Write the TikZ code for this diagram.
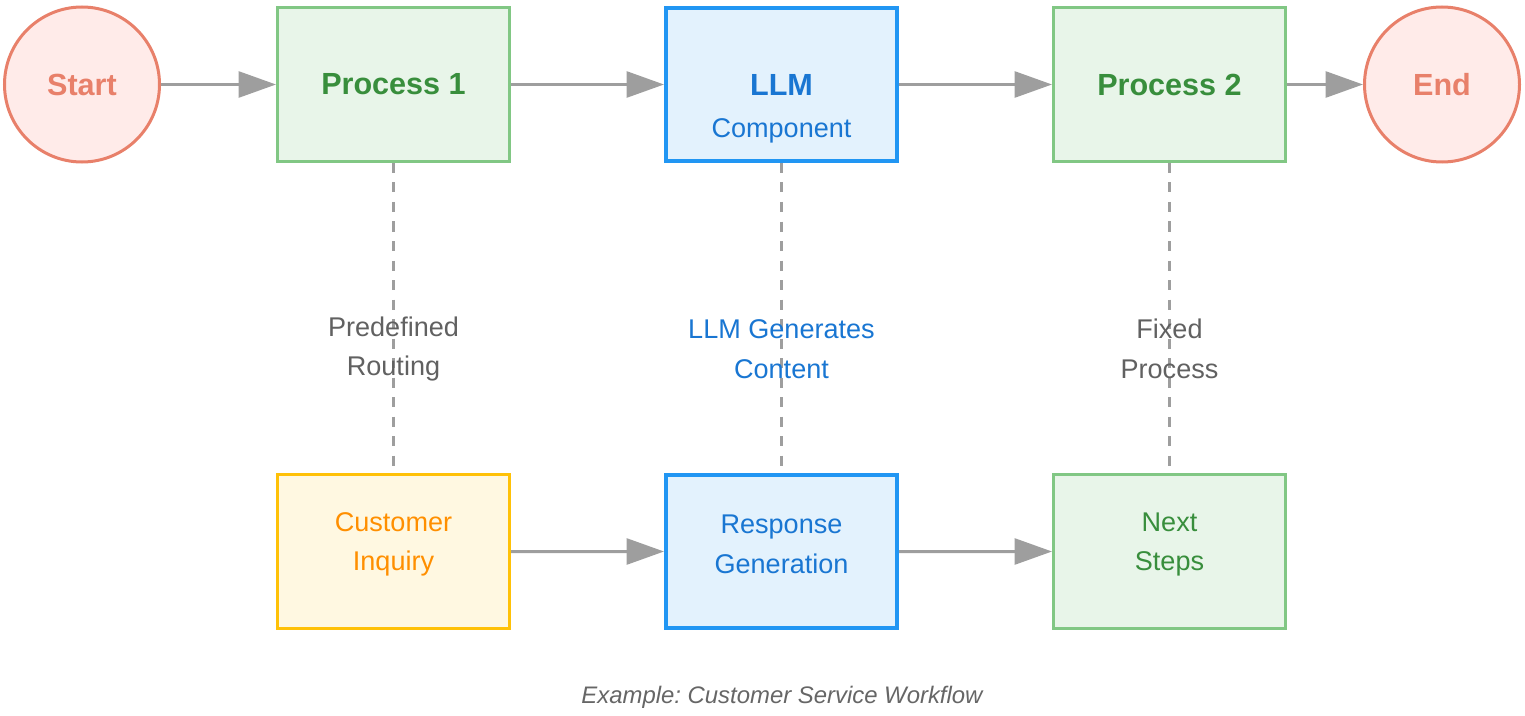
\documentclass[tikz,border=0pt]{standalone}
\usepackage{fontspec}
\setmainfont{Liberation Sans}
\frenchspacing
\usetikzlibrary{positioning, arrows.meta}
\definecolor{endstroke}{HTML}{E8806A}
\definecolor{endfill}{HTML}{FFEBE9}
\definecolor{procstroke}{HTML}{81C784}
\definecolor{procfill}{HTML}{E8F5E9}
\definecolor{proctext}{HTML}{388E3C}
\definecolor{llmstroke}{HTML}{2196F3}
\definecolor{llmfill}{HTML}{E3F2FD}
\definecolor{llmtext}{HTML}{1976D2}
\definecolor{inqstroke}{HTML}{FFC107}
\definecolor{inqfill}{HTML}{FFF8E1}
\definecolor{inqtext}{HTML}{FF8F00}
\definecolor{linkgray}{HTML}{9E9E9E}
\definecolor{notegray}{HTML}{616161}

\begin{document}
\begin{tikzpicture}[
  every node/.style={font=\fontsize{15.4}{22.4}\selectfont},
  >={Triangle[length=7.5mm, width=5.2mm]},
  terminal/.style={
    circle, draw=endstroke, line width=0.06cm, fill=endfill,
    minimum size=31mm, inner sep=0pt,
    text=endstroke, font=\fontsize{17.4}{20}\selectfont\bfseries
  },
  box/.style={
    rectangle, line width=0.06cm, minimum width=46.4mm, minimum height=30.8mm,
    inner sep=0pt, align=center
  },
  procbox/.style={box, draw=procstroke, fill=procfill, text=proctext},
  llmbox/.style={box, draw=llmstroke, fill=llmfill, text=llmtext, line width=0.08cm,
    minimum width=46.2mm, minimum height=30.6mm},
  inqbox/.style={box, draw=inqstroke, fill=inqfill, text=inqtext},
  title/.style={font=\fontsize{17.4}{20}\selectfont\bfseries},
  boxtext/.style={align=center, inner sep=0pt},
  note/.style={align=center, inner sep=0pt, text=notegray},
  arrow/.style={->, line width=0.06cm, draw=linkgray},
  link/.style={line width=0.06cm, draw=linkgray, dash pattern=on 2mm off 1.9mm}
]
\useasboundingbox (0,0) rectangle (30.5,-14.32);

% top row
\node[terminal] (start) at (1.64,-1.69) {Start};
\node[procbox, title, right=23mm of start] (proc1) {Process 1};
\node[llmbox, title, right=30.6mm of proc1] (llm) {LLM};
\node[boxtext, text=llmtext, yshift=-9.3mm] (llmsub) at (llm.center) {Component};
\node[procbox, title, right=30.6mm of llm] (proc2) {Process 2};
\node[terminal, right=15.2mm of proc2] (end) {End};

% bottom row
\node[inqbox, below=62mm of proc1] (inquiry) {};
\node[boxtext, text=inqtext, yshift=1.4mm] (inquirytext) at (inquiry.center) {Customer\\Inquiry};
\node[llmbox, below=62mm of llm] (response) {};
\node[boxtext, text=llmtext, yshift=1.4mm] (responsetext) at (response.center) {Response\\Generation};
\node[procbox, below=62mm of proc2] (next) {};
\node[boxtext, text=proctext, yshift=1.4mm] (nexttext) at (next.center) {Next\\Steps};

% flow
\draw[arrow] (start) -- (proc1);
\draw[arrow] (proc1) -- (llm);
\draw[arrow] (llm) -- (proc2);
\draw[arrow] (proc2) -- (end);
\draw[arrow] (inquiry) -- (response);
\draw[arrow] (response) -- (next);

% links between rows
\draw[link] (proc1) -- (inquiry) node[note, pos=0.6] (routing) {Predefined\\Routing};
\draw[link] (llm) -- (response) node[note, pos=0.6, text=llmtext] (generates) {LLM Generates\\Content};
\draw[link] (proc2) -- (next) node[note, pos=0.6] (fixed) {Fixed\\Process};

\node[font=\fontsize{13.6}{16}\selectfont\itshape, text=black!60] (caption) at (15.64,-13.94) {Example: Customer Service Workflow};

\end{tikzpicture}
\end{document}
